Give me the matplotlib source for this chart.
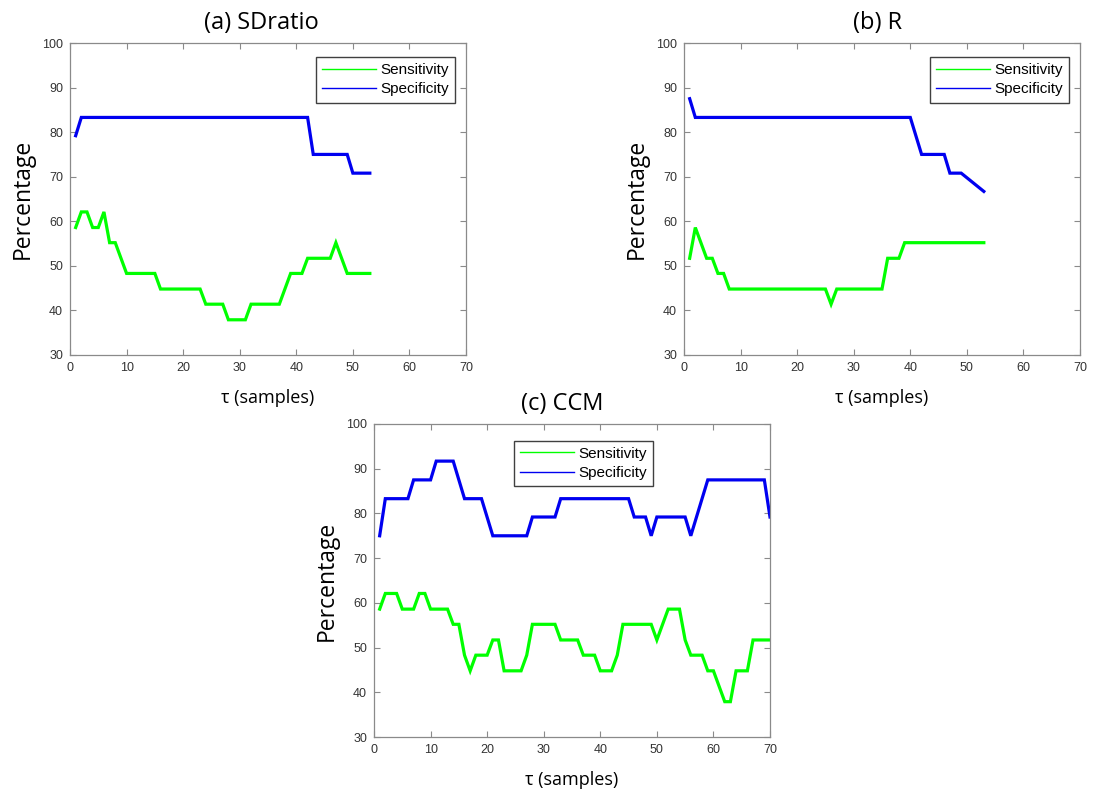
import matplotlib
matplotlib.use("Agg")
import matplotlib.pyplot as plt
from matplotlib.lines import Line2D

# ---------------- data (breakpoints) ----------------
a_sens_tau = [1, 2, 3, 4, 5, 6, 7, 8, 10, 15, 16, 23, 24, 27, 28, 31, 32, 37, 39, 41, 42, 46, 47, 49, 53]
a_sens = [58.6, 62.1, 62.1, 58.6, 58.6, 62.1, 55.2, 55.2, 48.3, 48.3, 44.8, 44.8, 41.4, 41.4,
          37.9, 37.9, 41.4, 41.4, 48.3, 48.3, 51.7, 51.7, 55.2, 48.3, 48.3]
a_spec_tau = [1, 2, 42, 43, 49, 50, 53]
a_spec = [79.2, 83.3, 83.3, 75.0, 75.0, 70.8, 70.8]

b_sens_tau = [1, 2, 4, 5, 6, 7, 8, 25, 26, 27, 35, 36, 38, 39, 53]
b_sens = [51.7, 58.6, 51.7, 51.7, 48.3, 48.3, 44.8, 44.8, 41.4, 44.8, 44.8, 51.7, 51.7, 55.2, 55.2]
b_spec_tau = [1, 2, 40, 42, 46, 47, 49, 53]
b_spec = [87.5, 83.3, 83.3, 75.0, 75.0, 70.8, 70.8, 66.7]

c_sens_tau = [1, 2, 4, 5, 7, 8, 9, 10, 13, 14, 15, 16, 17, 18, 20, 21, 22, 23, 26, 27, 28, 32,
              33, 36, 37, 39, 40, 42, 43, 44, 49, 50, 52, 54, 55, 56, 58, 59, 60, 62, 63, 64,
              66, 67, 70]
c_sens = [58.6, 62.1, 62.1, 58.6, 58.6, 62.1, 62.1, 58.6, 58.6, 55.2, 55.2, 48.3, 44.8, 48.3,
          48.3, 51.7, 51.7, 44.8, 44.8, 48.3, 55.2, 55.2, 51.7, 51.7, 48.3, 48.3, 44.8, 44.8,
          48.3, 55.2, 55.2, 51.7, 58.6, 58.6, 51.7, 48.3, 48.3, 44.8, 44.8, 37.9, 37.9, 44.8,
          44.8, 51.7, 51.7]
c_spec_tau = [1, 2, 6, 7, 10, 11, 14, 16, 19, 21, 27, 28, 32, 33, 45, 46, 48, 49, 50, 55, 56,
              59, 69, 70]
c_spec = [75.0, 83.3, 83.3, 87.5, 87.5, 91.7, 91.7, 83.3, 83.3, 75.0, 75.0, 79.2, 79.2, 83.3,
          83.3, 79.2, 79.2, 75.0, 79.2, 79.2, 75.0, 87.5, 87.5, 79.2]

titles = ["(a) SDratio", "(b) R", "(c) CCM"]
series_names = ["Sensitivity", "Specificity"]
x_ticks = [0, 10, 20, 30, 40, 50, 60, 70]
y_ticks = [30, 40, 50, 60, 70, 80, 90, 100]

# ---------------- styling ----------------
W, H = 1099, 789
GREEN = "#00ff00"
BLUE = "#0000f0"
SPINE = "#8a8a8a"
TICKC = "#333333"
LABEL_FONT = ["Open Sans", "DejaVu Sans"]
TICK_FONT = ["Liberation Sans", "DejaVu Sans"]

fig = plt.figure(figsize=(W / 100, H / 100), dpi=100)


def px_axes(left, right, top, bottom):
    return fig.add_axes([left / W, (H - bottom) / H, (right - left) / W, (bottom - top) / H])


def panel(ax, title, title_x, sens_tau, sens, spec_tau, spec, leg_anchor):
    ax.plot(sens_tau, sens, color=GREEN, lw=2.3, solid_joinstyle="miter")
    ax.plot(spec_tau, spec, color=BLUE, lw=2.3, solid_joinstyle="miter")
    ax.set_xlim(0, 70)
    ax.set_ylim(30, 100)
    ax.set_xticks(x_ticks)
    ax.set_yticks(y_ticks)
    ax.tick_params(direction="in", length=4, width=0.8, colors=SPINE, labelcolor=TICKC,
                   labelsize=9, top=True, right=True, pad=5)
    for lab in ax.get_xticklabels() + ax.get_yticklabels():
        lab.set_family(TICK_FONT)
    for s in ax.spines.values():
        s.set_color(SPINE)
        s.set_linewidth(0.9)
    ax.set_title(title, family=LABEL_FONT, fontsize=17, pad=10, x=title_x)
    ax.set_xlabel("τ (samples)", family=LABEL_FONT, fontsize=13, labelpad=11)
    ax.set_ylabel("Percentage", family=LABEL_FONT, fontsize=16.5, labelpad=5)
    handles = [Line2D([], [], color=GREEN, lw=1.0), Line2D([], [], color=BLUE, lw=1.0)]
    leg = ax.legend(handles, series_names, loc="upper right", bbox_to_anchor=leg_anchor,
                    borderaxespad=0, fancybox=False, framealpha=1, edgecolor="#404040",
                    prop={"family": TICK_FONT, "size": 11}, handlelength=3.5,
                    handletextpad=0.3, borderpad=0.4, labelspacing=0.35)
    leg.get_frame().set_linewidth(1.0)


ax_a = px_axes(70, 466, 43, 355)
panel(ax_a, titles[0], 0.484, a_sens_tau, a_sens, a_spec_tau, a_spec, (0.972, 0.955))

ax_b = px_axes(684, 1080, 43, 355)
panel(ax_b, titles[1], 0.489, b_sens_tau, b_sens, b_spec_tau, b_spec, (0.972, 0.955))

ax_c = px_axes(374, 770, 424, 737)
panel(ax_c, titles[2], 0.474, c_sens_tau, c_sens, c_spec_tau, c_spec, (0.7045, 0.9466))

fig.savefig("out.png", dpi=100, facecolor="white")
